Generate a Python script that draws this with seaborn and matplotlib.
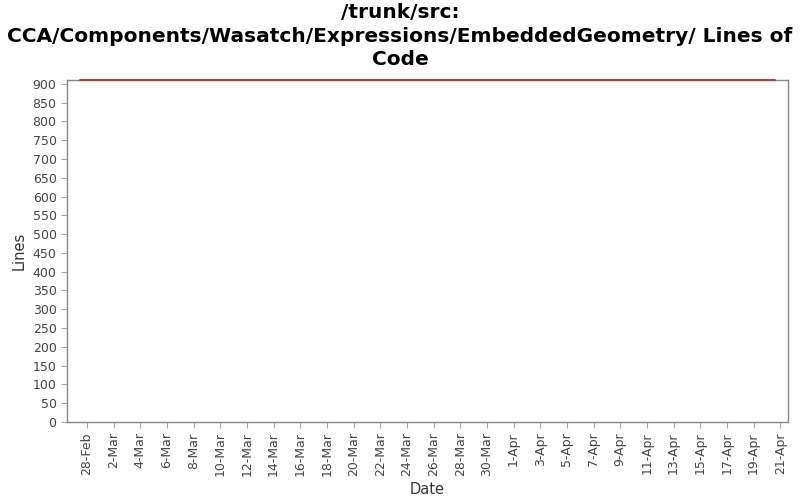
import pandas as pd
import seaborn as sns
import matplotlib.pyplot as plt

dates = ['2011-02-27 12:00', '2011-04-20 14:00']
lines = [910, 910]
title = '/trunk/src:\nCCA/Components/Wasatch/Expressions/EmbeddedGeometry/ Lines of\nCode'

df = pd.DataFrame({'Date': pd.to_datetime(dates), 'Lines': lines})

sns.set_style('white')
plt.rcParams['font.family'] = ['DejaVu Sans']
fig = plt.figure(figsize=(8, 5), dpi=100)
ax = fig.add_axes([67 / 800, 78 / 500, 721 / 800, 342 / 500])
sns.lineplot(data=df, x='Date', y='Lines', color='#993333', linewidth=1.3, ax=ax)
for ln in ax.lines:
    ln.set_clip_on(False)
    ln.set_zorder(5)

ax.set_ylim(0, 910)
ax.set_yticks(range(0, 901, 50))
ax.set_xlim(pd.Timestamp('2011-02-26 12:00'), pd.Timestamp('2011-04-21 14:00'))
ticks = pd.date_range('2011-02-28', '2011-04-21', freq='2D')
ax.set_xticks(ticks)
ax.set_xticklabels([f'{d.day}-{d.strftime("%b")}' for d in ticks], rotation=90)
ax.tick_params(axis='both', bottom=True, left=True, labelsize=9, labelcolor='#444444',
               color='#aaaaaa', length=4, width=0.8, direction='out')
for s in ax.spines.values():
    s.set_color('#888888')
    s.set_linewidth(1)
ax.set_xlabel('Date', fontsize=10.5, color='#333333')
ax.set_ylabel('Lines', fontsize=10.5, color='#333333')
fig.text(0.5, 1 - 36 / 500, title, ha='center', va='center', fontsize=14.5,
         fontweight='bold', color='black', linespacing=1.3)
fig.savefig('out.png')
